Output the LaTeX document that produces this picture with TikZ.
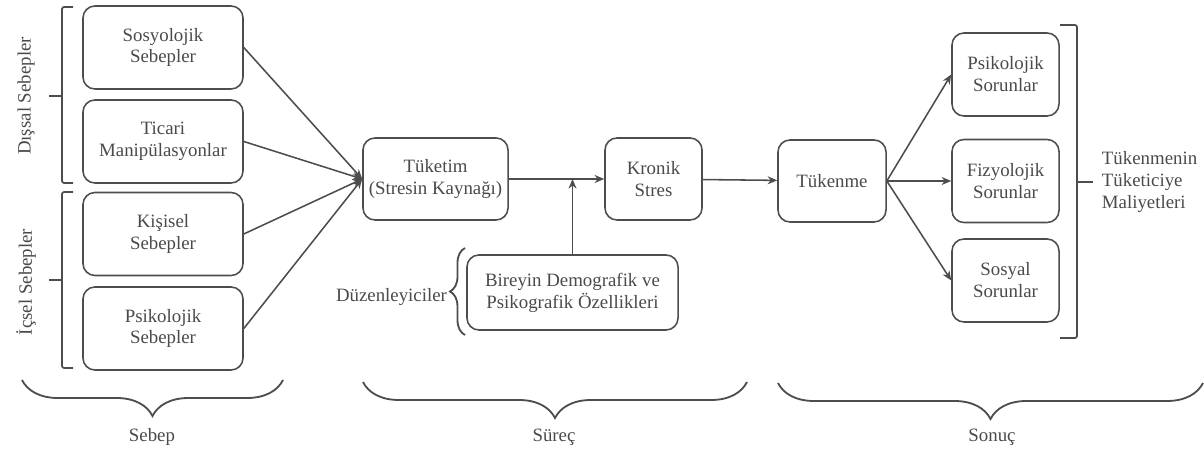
\documentclass[tikz,border=0pt]{standalone}
\usepackage{fontspec}
\setmainfont{Liberation Serif}
\newfontfamily\diagfont{Liberation Serif}
\usetikzlibrary{arrows.meta,decorations.pathreplacing}
\definecolor{line-gray}{HTML}{4D4D4D}
\definecolor{text-gray}{HTML}{4A4A4A}

\begin{document}
\begin{tikzpicture}[x=0.025cm, y=-0.025cm,
      every node/.style={font=\diagfont\fontsize{13.4}{15.6}\selectfont, text=text-gray},
      cell/.style={draw=line-gray, line width=1.1pt, rounded corners=0.3cm,
          fill=white, align=center, inner sep=0pt},
      link/.style={->, draw=line-gray, line width=1.1pt},
      bracket/.style={draw=line-gray, line width=1.2pt, rounded corners=1.5pt},
      curly/.style={draw=line-gray, line width=1.3pt, decorate,
          decoration={brace, amplitude=#1}},
      >={Stealth[length=2.4mm, width=2mm]}]
    \useasboundingbox (0,0) rectangle (1204,452);

    % causes
    \node[cell, minimum width=4cm, minimum height=2.075cm]
          (SOS) at (163,47.5) {Sosyolojik\\Sebepler};
    \node[cell, minimum width=4cm, minimum height=2.075cm]
          (TIC) at (163,141.5) {Ticari\\Manipülasyonlar};
    \node[cell, minimum width=4cm, minimum height=2.075cm]
          (KIS) at (163,234) {Kişisel\\Sebepler};
    \node[cell, minimum width=4cm, minimum height=2.075cm]
          (PSS) at (163,328.5) {Psikolojik\\Sebepler};

    % process
    \node[cell, minimum width=3.625cm, minimum height=2.05cm]
          (TUK) at (435.5,179) {Tüketim\\(Stresin Kaynağı)};
    \node[cell, minimum width=2.425cm, minimum height=2.05cm]
          (KRO) at (653.5,179) {Kronik\\Stres};
    \node[cell, minimum width=5.275cm, minimum height=1.875cm]
          (BIR) at (572.5,292.5) {Bireyin Demografik ve\\Psikografik Özellikleri};

    % outcomes
    \node[cell, minimum width=2.7cm, minimum height=2.05cm]
          (TKN) at (832,181) {Tükenme};
    \node[cell, minimum width=2.675cm, minimum height=2.075cm]
          (PSO) at (1005.5,74.5) {Psikolojik\\Sorunlar};
    \node[cell, minimum width=2.675cm, minimum height=2.075cm]
          (FIZ) at (1005.5,181) {Fizyolojik\\Sorunlar};
    \node[cell, minimum width=2.675cm, minimum height=2.075cm]
          (SSY) at (1005.5,280.5) {Sosyal\\Sorunlar};

    % labels
    \node[rotate=90] (DIS) at (26,96) {Dışsal Sebepler};
    \node[rotate=90] (ICS) at (26,282) {İçsel Sebepler};
    \node[anchor=east, inner sep=2pt] (DUZ) at (450,297) {Düzenleyiciler};
    \node[anchor=west, align=left] (MAL) at (1097,182)
          {Tükenmenin\\Tüketiciye\\Maliyetleri};
    \node (SEB) at (152,437) {Sebep};
    \node (SUR) at (554,437) {Süreç};
    \node (SON) at (992,437) {Sonuç};

    % arrows
    \foreach \src in {SOS,TIC,KIS,PSS}
      \draw[link] (\src.east) -- (TUK.west);
    \draw[link] (TUK) -- (KRO);
    \draw[link] (BIR.north) -- (BIR.north |- TUK.east);
    \draw[link] (KRO) -- (TKN);
    \foreach \dst in {PSO,FIZ,SSY}
      \draw[link] (TKN.east) -- (\dst.west);

    % brackets and braces
    \draw[bracket] (73,7) -- (62,7) -- (62,183) -- (73,183);
    \draw[bracket] (62,96) -- (49,96);
    \draw[bracket] (73,192) -- (62,192) -- (62,368) -- (73,368);
    \draw[bracket] (62,280) -- (49,280);
    \draw[bracket] (1060,25) -- (1077,25) -- (1077,338) -- (1060,338);
    \draw[bracket] (1077,182) -- (1093,182);
    \draw[curly=0.375cm] (465,335) -- (465,248);
    \draw[curly=0.9cm] (283,380) -- (22,380);
    \draw[curly=0.9cm] (747,382) -- (363,382);
    \draw[curly=0.9cm] (1203,383) -- (778,383);
  \end{tikzpicture}
\end{document}
